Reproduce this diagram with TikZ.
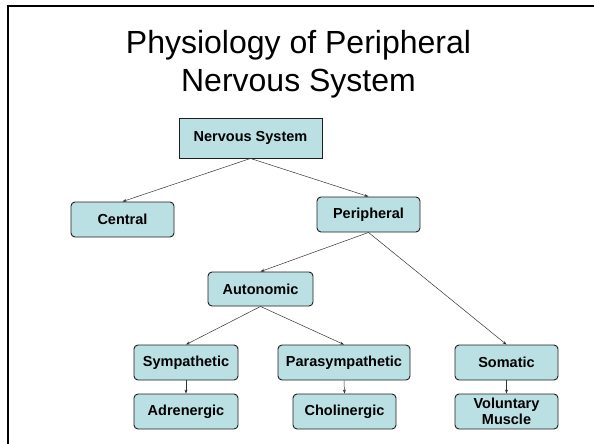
\documentclass[tikz,border=0pt]{standalone}
\usepackage{fontspec}
\setmainfont{Liberation Sans}
\usepackage{tikz}
\usetikzlibrary{arrows.meta,positioning}
\definecolor{boxfill}{RGB}{187,224,227}
\definecolor{boxline}{RGB}{30,30,30}
\definecolor{linkgray}{RGB}{50,50,50}
\tikzset{
  unit/.style={draw=boxline,fill=boxfill,line width=0.9pt,rounded corners=4pt,
    minimum width=103pt,minimum height=35pt,inner sep=0pt,align=center,
    font=\bfseries\fontsize{14.5}{15.5}\selectfont},
  link/.style={-{Stealth[length=4pt,width=3pt]},line width=0.5pt,color=linkgray}
}

\begin{document}
\begin{tikzpicture}[x=1pt,y=-1pt]
    \useasboundingbox (0,0) rectangle (594,444);
    % slide frame
    \draw[line width=2.4pt,color=black] (8,444) -- (8,6) -- (594,6);
    \node[font=\fontsize{32}{38}\selectfont,align=center] (title) at (298.5,64)
      {Physiology of Peripheral\\Nervous System};
    % boxes
    \node[unit,rounded corners=0pt,minimum width=143pt,minimum height=40pt] (nervous) at (250.5,138) {Nervous System};
    \node[unit] (central) at (122.5,219.5) {Central};
    \node[unit] (peripheral) at (368.5,214.5) {Peripheral};
    \node[unit,minimum width=105pt,minimum height=34pt] (autonomic) at (260.5,289) {Autonomic};
    \node[unit,minimum width=104pt] (sympathetic) at (186,362.5) {Sympathetic};
    \node[unit,minimum width=132pt] (parasym) at (344,362.5) {Parasympathetic};
    \node[unit] (somatic) at (506.5,362.5) {Somatic};
    \node[unit,minimum width=104pt] (adrenergic) at (186,411.5) {Adrenergic};
    \node[unit] (cholinergic) at (344.5,411.5) {Cholinergic};
    \node[unit] (voluntary) at (506.5,411.5) {Voluntary\\Muscle};
    % links
    \draw[link] (nervous.south) -- (central.north);
    \draw[link] (nervous.south) -- (peripheral.north);
    \draw[link] (peripheral.south) -- (autonomic.north);
    \draw[link] (peripheral.south) -- (somatic.north);
    \draw[link] (autonomic.south) -- (sympathetic.north);
    \draw[link] (autonomic.south) -- (parasym.north);
    \draw[link] (sympathetic.south) -- (adrenergic.north);
    \draw[link] (parasym.south) -- (cholinergic.north);
    \draw[link] (somatic.south) -- (voluntary.north);
  \end{tikzpicture}
\end{document}
